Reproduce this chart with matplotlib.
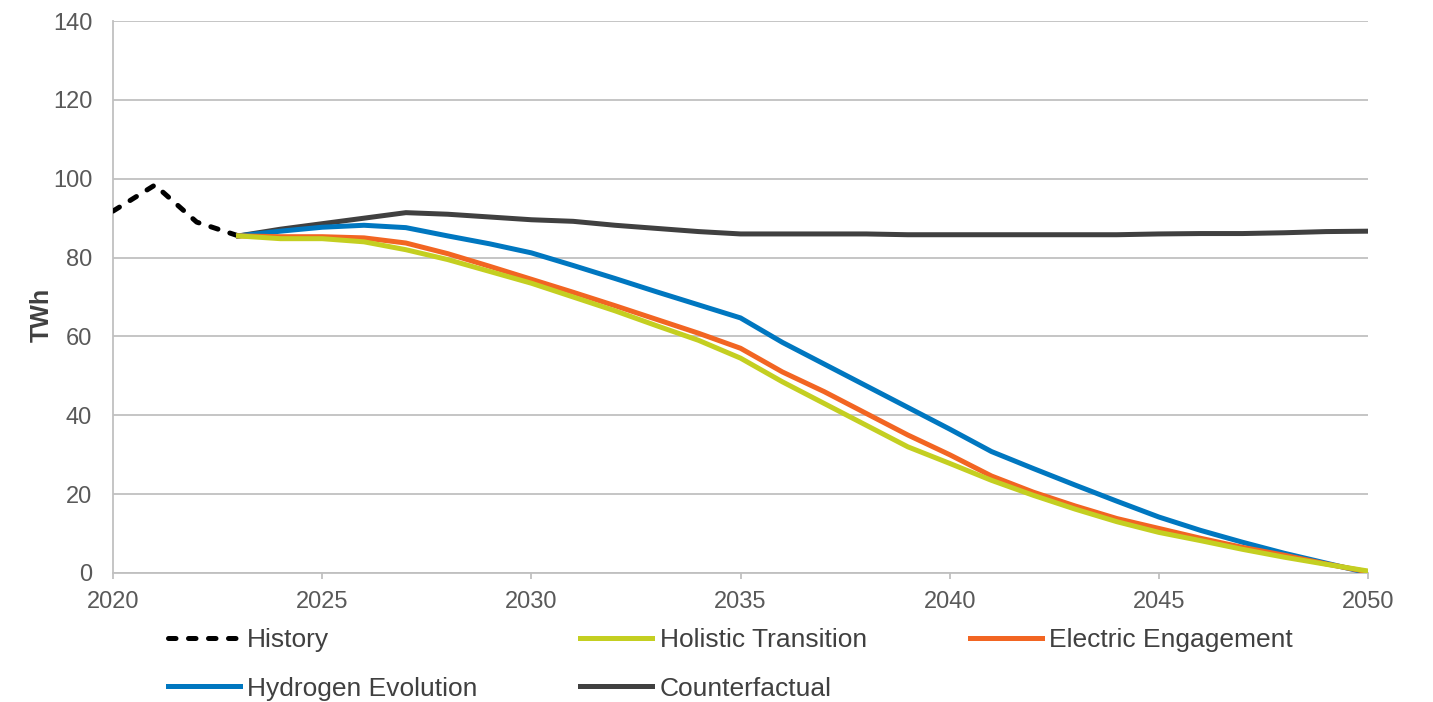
import matplotlib.pyplot as plt

plt.rcParams['font.family'] = ['Liberation Sans', 'DejaVu Sans']

hist_years = [2020, 2021, 2022, 2023]
history = [91.8, 98.4, 89.0, 85.5]

years = list(range(2023, 2051))
holistic = [85.5, 84.8, 84.8, 84.0, 82.0, 79.5, 76.5, 73.5, 70.0, 66.5, 62.7, 59.0, 54.5,
            48.5, 43.0, 37.5, 32.0, 27.8, 23.5, 19.7, 16.2, 13.0, 10.3, 8.2, 6.0, 4.0, 2.2, 0.5]
electric = [85.5, 85.3, 85.3, 85.0, 83.7, 81.0, 77.8, 74.5, 71.2, 67.8, 64.3, 60.8, 57.0,
            51.0, 46.0, 40.5, 35.0, 30.0, 24.6, 20.5, 17.0, 13.8, 11.3, 8.8, 6.5, 4.5, 2.3, 0.3]
hydrogen = [85.5, 86.7, 87.7, 88.2, 87.6, 85.5, 83.5, 81.2, 78.0, 74.7, 71.3, 68.0, 64.7,
            58.5, 53.0, 47.5, 42.0, 36.5, 30.8, 26.5, 22.3, 18.2, 14.2, 10.8, 7.8, 5.0, 2.5, 0.0]
counterfactual = [85.5, 87.2, 88.6, 90.0, 91.4, 91.0, 90.3, 89.6, 89.2, 88.2, 87.4, 86.6, 86.0,
                  86.0, 86.0, 86.0, 85.8, 85.8, 85.8, 85.8, 85.8, 85.8, 86.0, 86.1, 86.1, 86.3, 86.6, 86.7]

fig = plt.figure(figsize=(14.33, 7.02), dpi=100)
ax = fig.add_axes([0.0789, 0.1838, 0.8757, 0.7862])

lw = 3.6
l_hist, = ax.plot(hist_years, history, color='black', lw=lw, dashes=(1.5, 2.5),
                  dash_capstyle='round', label='History', zorder=3)
l_cf, = ax.plot(years, counterfactual, color='#404040', lw=lw, label='Counterfactual', zorder=3)
l_h2, = ax.plot(years, hydrogen, color='#0077C0', lw=lw, label='Hydrogen Evolution', zorder=4)
l_el, = ax.plot(years, electric, color='#F26522', lw=lw, label='Electric Engagement', zorder=5)
l_ho, = ax.plot(years, holistic, color='#C4CF21', lw=lw, label='Holistic Transition', zorder=6)

ax.set_xlim(2020, 2050)
ax.set_ylim(0, 140)
ax.set_xticks(range(2020, 2051, 5))
ax.set_yticks(range(0, 141, 20))
ax.grid(axis='y', color='#c0c0c0', lw=1.3)
ax.set_axisbelow(True)
for s in ['top', 'right']:
    ax.spines[s].set_visible(False)
ax.spines['left'].set_color('#c0c0c0')
ax.spines['left'].set_linewidth(1.3)
ax.spines['bottom'].set_color('#c0c0c0')
ax.spines['bottom'].set_linewidth(1.3)
ax.tick_params(axis='y', length=0, labelsize=17, labelcolor='#595959', pad=15)
ax.tick_params(axis='x', length=4.3, width=1.3, color='#c0c0c0', labelsize=17, labelcolor='#595959', pad=9)
ax.set_ylabel('TWh', fontsize=18, fontweight='bold', color='#404040')
ax.yaxis.set_label_coords(-0.047, 0.467)

handles = [l_hist, l_h2, l_ho, l_cf, l_el]
fig.legend(handles=handles, labels=[h.get_label() for h in handles], ncol=3,
           loc='upper left', bbox_to_anchor=(0.1172, 0.105), frameon=False,
           borderpad=0, borderaxespad=0,
           fontsize=19, handlelength=2.73, handletextpad=0.27, columnspacing=3.9,
           labelspacing=0.92, labelcolor='#404040')

fig.savefig('out.png', dpi=100)
